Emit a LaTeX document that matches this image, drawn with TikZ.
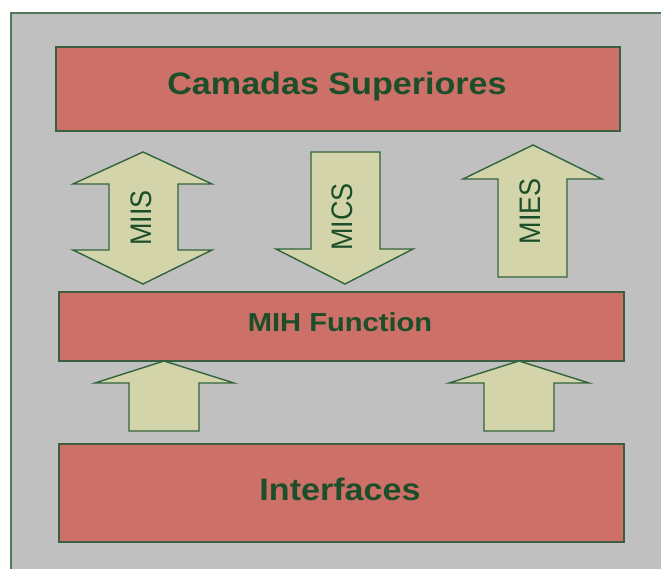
\documentclass[tikz,border=0pt]{standalone}
\usepackage{fontspec}
\setmainfont{Liberation Sans}
\definecolor{bggray}{RGB}{192,192,192}
\definecolor{framegreen}{RGB}{80,120,90}
\definecolor{boxred}{RGB}{204,112,104}
\definecolor{boxline}{RGB}{60,95,65}
\definecolor{arrowfill}{RGB}{211,212,170}
\definecolor{arrowline}{RGB}{50,100,60}
\definecolor{textgreen}{RGB}{28,78,42}
\tikzset{
  layer/.style={draw=boxline, line width=2pt, fill=boxred, inner sep=0pt},
  blockarrow/.style={draw=arrowline, line width=1.4pt, fill=arrowfill, line join=miter},
  lbl/.style={text=textgreen, inner sep=0pt},
}
\newcommand{\bigtxt}[1]{\scalebox{1.1}[1]{\fontsize{31}{37}\selectfont\bfseries #1}}
\newcommand{\midtxt}[1]{\scalebox{1.12}[1]{\fontsize{26}{31}\selectfont\bfseries #1}}
\newcommand{\vtxt}[1]{\scalebox{1.1}[1]{\rotatebox{90}{\fontsize{27}{32}\selectfont #1}}}
\begin{document}
\begin{tikzpicture}[x=1pt, y=-1pt]
\useasboundingbox (0,0) rectangle (661,568);
% background panel
\fill[bggray] (11,13) rectangle (700,600);
\draw[framegreen, line width=1.5pt] (11,600) -- (11,13) -- (700,13);

% layers
\node[layer, minimum width=564pt, minimum height=84pt] (top) at (338,89) {};
\node[layer, minimum width=565pt, minimum height=69pt] (mih) at (341.5,326.5) {};
\node[layer, minimum width=565pt, minimum height=98pt] (ifc) at (341.5,492.5) {};

\node[lbl] (toptxt) at (337,86) {\bigtxt{Camadas Superiores}};
\node[lbl] (mihtxt) at (340,322.5) {\midtxt{MIH Function}};
\node[lbl] (ifctxt) at (340,489) {\bigtxt{Interfaces}};

% MIIS double arrow
\draw[blockarrow] (143,152) -- (212,184) -- (178,184) -- (178,250) -- (212,250)
  -- (143,284) -- (73,250) -- (109,250) -- (109,184) -- (73,184) -- cycle;
\node[lbl] (miis) at (141,218) {\vtxt{MIIS}};

% MICS down arrow
\draw[blockarrow] (311,152) -- (380,152) -- (380,249) -- (413,249) -- (345,284)
  -- (276,249) -- (311,249) -- cycle;
\node[lbl] (mics) at (342,217) {\vtxt{MICS}};

% MIES up arrow
\draw[blockarrow] (533,145) -- (602,179) -- (567,179) -- (567,277) -- (498,277)
  -- (498,179) -- (463,179) -- cycle;
\node[lbl] (mies) at (530,211) {\vtxt{MIES}};

% small up arrows
\draw[blockarrow] (164,361) -- (234,383) -- (199,383) -- (199,431) -- (129,431)
  -- (129,383) -- (95,383) -- cycle;
\draw[blockarrow] (519,361) -- (589,383) -- (554,383) -- (554,431) -- (484,431)
  -- (484,383) -- (449,383) -- cycle;
\end{tikzpicture}
\end{document}
